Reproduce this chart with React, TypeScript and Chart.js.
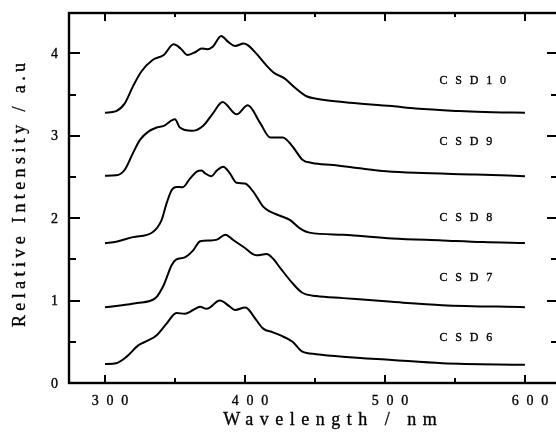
import React, { useEffect, useRef } from "react";
import { Chart, registerables } from "chart.js";

Chart.register(...registerables);

// ---- data ----
const wlCSD10 = [300, 308, 314, 320, 326, 334, 342, 349, 354, 359, 365, 369, 373, 377, 383, 388, 393, 399, 402, 408, 415, 421, 428, 436, 444, 451, 458, 475, 505, 522, 553, 577, 600];
const vCSD10 = [3.28, 3.3, 3.39, 3.6, 3.78, 3.92, 3.98, 4.11, 4.06, 3.98, 4.02, 4.06, 4.05, 4.08, 4.21, 4.14, 4.09, 4.12, 4.1, 4.0, 3.86, 3.76, 3.7, 3.58, 3.48, 3.45, 3.43, 3.4, 3.36, 3.33, 3.3, 3.285, 3.28];

const wlCSD9 = [300, 308, 314, 320, 325, 331, 337, 342, 350, 353.5, 362, 370, 377, 384, 394, 402, 411, 418, 427, 434, 441, 448, 463, 482, 501, 522, 565, 600];
const vCSD9 = [2.515, 2.52, 2.585, 2.79, 2.95, 3.05, 3.1, 3.12, 3.2, 3.1, 3.06, 3.12, 3.27, 3.41, 3.26, 3.37, 3.15, 2.98, 2.98, 2.87, 2.71, 2.67, 2.645, 2.605, 2.57, 2.55, 2.53, 2.51];

const wlCSD8 = [300, 308, 320, 334, 340.5, 344, 347.6, 351, 355.5, 360.7, 365.5, 369, 371.5, 376, 380, 384.5, 389, 394, 400, 406, 413, 418, 425, 432, 439, 446, 470, 505, 541, 570, 600];
const vCSD8 = [1.695, 1.715, 1.77, 1.83, 1.98, 2.18, 2.34, 2.38, 2.375, 2.48, 2.565, 2.58, 2.545, 2.51, 2.58, 2.625, 2.55, 2.43, 2.42, 2.32, 2.14, 2.08, 2.03, 1.98, 1.88, 1.825, 1.8, 1.755, 1.73, 1.71, 1.7];

const wlCSD7 = [300, 311, 323, 336, 342, 347.6, 351, 357, 363, 368, 375, 380, 386, 391.6, 399, 408, 415.5, 420, 425, 434, 441, 451, 470, 505, 541, 600];
const vCSD7 = [0.92, 0.94, 0.97, 1.03, 1.19, 1.43, 1.5, 1.525, 1.61, 1.72, 1.73, 1.74, 1.8, 1.735, 1.65, 1.55, 1.565, 1.51, 1.4, 1.21, 1.095, 1.055, 1.03, 0.985, 0.945, 0.92];

const wlCSD6 = [300, 308, 315.5, 324, 330, 337, 344, 351, 357, 363, 368, 372.6, 382, 389, 393, 400, 402, 408, 413, 420, 425, 434, 441, 451, 470, 505, 541, 600];
const vCSD6 = [0.23, 0.24, 0.32, 0.46, 0.51, 0.58, 0.72, 0.85, 0.84, 0.886, 0.925, 0.9, 1.0, 0.93, 0.886, 0.915, 0.9, 0.765, 0.66, 0.615, 0.58, 0.5, 0.38, 0.35, 0.32, 0.28, 0.24, 0.22];

const seriesNames = ["CSD10", "CSD9", "CSD8", "CSD7", "CSD6"];
const labelX = 539;
const labelY = [3.67, 2.925, 2.01, 1.28, 0.55];

const xMajorTicks = [300, 400, 500, 600];
const xMinorTicks = [350, 450, 550];
const yMajorTicks = [0, 1, 2, 3, 4];
const yMinorTicks = [0.5, 1.5, 2.5, 3.5];

const xTitle = "Wavelength / nm";
const yTitle = "Relative Intensity / a.u";

const FONT = '"Liberation Serif", "Times New Roman", serif';

function toXY(xs: number[], ys: number[]) {
  return xs.map((x, i) => ({ x, y: ys[i] }));
}

function spacedText(ctx: CanvasRenderingContext2D, text: string, x: number, y: number, ls: number, align: "left" | "center" | "right") {
  (ctx as any).letterSpacing = ls + "px";
  const w = ctx.measureText(text).width - ls;
  let sx = x;
  if (align === "center") sx = x - w / 2;
  else if (align === "right") sx = x - w;
  ctx.textAlign = "left";
  ctx.fillText(text, sx, y);
  ctx.lineWidth = 0.35;
  ctx.strokeText(text, sx, y);
  (ctx as any).letterSpacing = "0px";
}

const framePlugin = {
  id: "frame",
  afterDraw(chart: any) {
    const { ctx, chartArea } = chart;
    const xs = chart.scales.x;
    const ys = chart.scales.y;
    const { left, right, top, bottom } = chartArea;
    ctx.save();
    ctx.strokeStyle = "#000";
    ctx.fillStyle = "#000";
    ctx.lineWidth = 2.4;
    ctx.strokeRect(left, top, right - left, bottom - top);

    ctx.lineWidth = 2;
    ctx.beginPath();
    xMajorTicks.forEach((v) => {
      const px = Math.round(xs.getPixelForValue(v));
      ctx.moveTo(px, bottom); ctx.lineTo(px, bottom - 8);
      ctx.moveTo(px, top); ctx.lineTo(px, top + 8);
    });
    xMinorTicks.forEach((v) => {
      const px = Math.round(xs.getPixelForValue(v));
      ctx.moveTo(px, bottom); ctx.lineTo(px, bottom - 5);
      ctx.moveTo(px, top); ctx.lineTo(px, top + 4);
    });
    yMajorTicks.forEach((v) => {
      const py = Math.round(ys.getPixelForValue(v));
      ctx.moveTo(left, py); ctx.lineTo(left + 11, py);
      ctx.moveTo(right, py); ctx.lineTo(right - 11, py);
    });
    yMinorTicks.forEach((v) => {
      const py = Math.round(ys.getPixelForValue(v));
      ctx.moveTo(left, py); ctx.lineTo(left + 7, py);
      ctx.moveTo(right, py); ctx.lineTo(right - 7, py);
    });
    ctx.stroke();

    // tick labels
    ctx.font = "14px " + FONT;
    ctx.textBaseline = "middle";
    yMajorTicks.forEach((v) => {
      const py = ys.getPixelForValue(v);
      spacedText(ctx, String(v), left - 11, py + 1, 0, "right");
    });
    ctx.textBaseline = "alphabetic";
    xMajorTicks.forEach((v) => {
      const px = xs.getPixelForValue(v);
      spacedText(ctx, String(v), px + 5, 404.5, 7.8, "center");
    });

    // series labels
    ctx.font = "12px " + FONT;
    ctx.textBaseline = "middle";
    seriesNames.forEach((n, i) => {
      const px = xs.getPixelForValue(labelX);
      const py = ys.getPixelForValue(labelY[i]);
      spacedText(ctx, n, px, py, 7.8, "left");
    });

    // axis titles
    ctx.font = "18px " + FONT;
    ctx.textBaseline = "alphabetic";
    spacedText(ctx, xTitle, (left + 557) / 2 + 17, 425, 6.5, "center");

    ctx.save();
    ctx.translate(25, (top + bottom) / 2 - 3);
    ctx.rotate(-Math.PI / 2);
    spacedText(ctx, yTitle, 0, 0, 4.4, "center");
    ctx.restore();

    ctx.restore();
  },
};

export default function App() {
  const ref = useRef<HTMLCanvasElement | null>(null);
  useEffect(() => {
    if (!ref.current) return;
    const mk = (xs: number[], ys: number[], label: string) => ({
      label,
      data: toXY(xs, ys),
      borderColor: "#000",
      backgroundColor: "#000",
      borderWidth: 2,
      pointRadius: 0,
      cubicInterpolationMode: "monotone" as const,
      fill: false,
    });
    const chart = new Chart(ref.current, {
      type: "line",
      data: {
        datasets: [
          mk(wlCSD10, vCSD10, "CSD10"),
          mk(wlCSD9, vCSD9, "CSD9"),
          mk(wlCSD8, vCSD8, "CSD8"),
          mk(wlCSD7, vCSD7, "CSD7"),
          mk(wlCSD6, vCSD6, "CSD6"),
        ],
      },
      options: {
        animation: false,
        responsive: false,
        maintainAspectRatio: false,
        devicePixelRatio: 1,
        layout: { padding: { left: 69, right: 12, top: 13, bottom: 49 } },
        plugins: { legend: { display: false }, tooltip: { enabled: false } },
        scales: {
          x: { type: "linear", min: 274.3, max: 623.6, display: false },
          y: { type: "linear", min: 0, max: 4.49, display: false },
        },
      },
      plugins: [framePlugin],
    });
    return () => chart.destroy();
  }, []);
  return (
    <div style={{ position: "fixed", left: 0, top: 0, width: 556, height: 432, overflow: "hidden", background: "#fff" }}>
      <canvas ref={ref} width={570} height={432} style={{ display: "block", width: 570, height: 432 }} />
    </div>
  );
}
